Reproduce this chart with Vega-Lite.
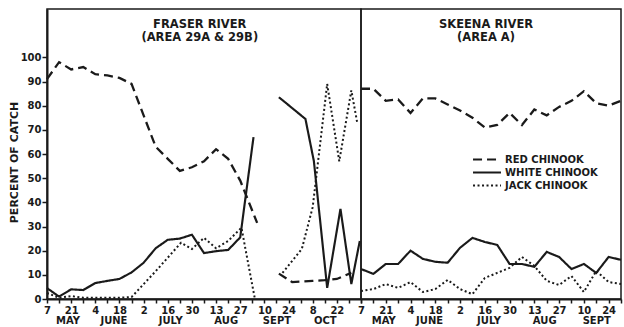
{
  "$schema": "https://vega.github.io/schema/vega-lite/v6.json",
  "background": "white",
  "padding": {"left": 7, "top": 8, "right": 1, "bottom": 0},
  "spacing": 0,
  "bounds": "flush",
  "config": {
    "font": "DejaVu Sans",
    "view": {"stroke": "#1a1a1a", "strokeWidth": 1.5},
    "axis": {
      "grid": false,
      "domainColor": "#1a1a1a",
      "domainWidth": 2,
      "tickColor": "#1a1a1a",
      "tickWidth": 1.5,
      "labelColor": "#1a1a1a",
      "labelFont": "DejaVu Sans",
      "labelFontWeight": "bold",
      "labelFontSize": 10,
      "titleFont": "DejaVu Sans",
      "titleFontWeight": "bold",
      "titleFontSize": 11,
      "titleColor": "#1a1a1a"
    },
    "legend": {
      "labelFont": "DejaVu Sans",
      "labelFontWeight": "bold",
      "labelFontSize": 10,
      "labelColor": "#1a1a1a",
      "symbolStrokeColor": "#1a1a1a",
      "symbolStrokeWidth": 2,
      "padding": 0
    }
  },
  "datasets": {
    "catch": [
      {"river": "Fraser", "type": "RED CHINOOK", "seg": 1, "week": 0, "pct": 91},
      {"river": "Fraser", "type": "RED CHINOOK", "seg": 1, "week": 1, "pct": 98},
      {"river": "Fraser", "type": "RED CHINOOK", "seg": 1, "week": 2, "pct": 95},
      {"river": "Fraser", "type": "RED CHINOOK", "seg": 1, "week": 3, "pct": 96},
      {"river": "Fraser", "type": "RED CHINOOK", "seg": 1, "week": 4, "pct": 93},
      {"river": "Fraser", "type": "RED CHINOOK", "seg": 1, "week": 5, "pct": 92.5},
      {"river": "Fraser", "type": "RED CHINOOK", "seg": 1, "week": 6, "pct": 91.5},
      {"river": "Fraser", "type": "RED CHINOOK", "seg": 1, "week": 7, "pct": 89},
      {"river": "Fraser", "type": "RED CHINOOK", "seg": 1, "week": 8, "pct": 76},
      {"river": "Fraser", "type": "RED CHINOOK", "seg": 1, "week": 9, "pct": 63},
      {"river": "Fraser", "type": "RED CHINOOK", "seg": 1, "week": 10, "pct": 58},
      {"river": "Fraser", "type": "RED CHINOOK", "seg": 1, "week": 11, "pct": 53},
      {"river": "Fraser", "type": "RED CHINOOK", "seg": 1, "week": 12, "pct": 54.5},
      {"river": "Fraser", "type": "RED CHINOOK", "seg": 1, "week": 13, "pct": 57},
      {"river": "Fraser", "type": "RED CHINOOK", "seg": 1, "week": 14, "pct": 62},
      {"river": "Fraser", "type": "RED CHINOOK", "seg": 1, "week": 15, "pct": 58},
      {"river": "Fraser", "type": "RED CHINOOK", "seg": 1, "week": 16, "pct": 49},
      {"river": "Fraser", "type": "RED CHINOOK", "seg": 1, "week": 17.4, "pct": 31.5},
      {"river": "Fraser", "type": "RED CHINOOK", "seg": 2, "week": 19.2, "pct": 10.5},
      {"river": "Fraser", "type": "RED CHINOOK", "seg": 2, "week": 20.3, "pct": 7},
      {"river": "Fraser", "type": "RED CHINOOK", "seg": 2, "week": 21, "pct": 7.2},
      {"river": "Fraser", "type": "RED CHINOOK", "seg": 2, "week": 22, "pct": 7.5},
      {"river": "Fraser", "type": "RED CHINOOK", "seg": 2, "week": 23, "pct": 7.8},
      {"river": "Fraser", "type": "RED CHINOOK", "seg": 2, "week": 24, "pct": 8.3},
      {"river": "Fraser", "type": "RED CHINOOK", "seg": 2, "week": 25.2, "pct": 10.8},
      {"river": "Fraser", "type": "WHITE CHINOOK", "seg": 1, "week": 0, "pct": 4.5},
      {"river": "Fraser", "type": "WHITE CHINOOK", "seg": 1, "week": 1, "pct": 1},
      {"river": "Fraser", "type": "WHITE CHINOOK", "seg": 1, "week": 2, "pct": 4},
      {"river": "Fraser", "type": "WHITE CHINOOK", "seg": 1, "week": 3, "pct": 3.7},
      {"river": "Fraser", "type": "WHITE CHINOOK", "seg": 1, "week": 4, "pct": 6.6},
      {"river": "Fraser", "type": "WHITE CHINOOK", "seg": 1, "week": 5, "pct": 7.5},
      {"river": "Fraser", "type": "WHITE CHINOOK", "seg": 1, "week": 6, "pct": 8.3},
      {"river": "Fraser", "type": "WHITE CHINOOK", "seg": 1, "week": 7, "pct": 11},
      {"river": "Fraser", "type": "WHITE CHINOOK", "seg": 1, "week": 8, "pct": 15},
      {"river": "Fraser", "type": "WHITE CHINOOK", "seg": 1, "week": 9, "pct": 21},
      {"river": "Fraser", "type": "WHITE CHINOOK", "seg": 1, "week": 10, "pct": 24.5},
      {"river": "Fraser", "type": "WHITE CHINOOK", "seg": 1, "week": 11, "pct": 25},
      {"river": "Fraser", "type": "WHITE CHINOOK", "seg": 1, "week": 12, "pct": 26.6},
      {"river": "Fraser", "type": "WHITE CHINOOK", "seg": 1, "week": 13, "pct": 19},
      {"river": "Fraser", "type": "WHITE CHINOOK", "seg": 1, "week": 14, "pct": 19.8},
      {"river": "Fraser", "type": "WHITE CHINOOK", "seg": 1, "week": 15, "pct": 20.3},
      {"river": "Fraser", "type": "WHITE CHINOOK", "seg": 1, "week": 16, "pct": 25.5},
      {"river": "Fraser", "type": "WHITE CHINOOK", "seg": 1, "week": 17.1, "pct": 67},
      {"river": "Fraser", "type": "WHITE CHINOOK", "seg": 2, "week": 19.2, "pct": 83.5},
      {"river": "Fraser", "type": "WHITE CHINOOK", "seg": 2, "week": 21.4, "pct": 74.5},
      {"river": "Fraser", "type": "WHITE CHINOOK", "seg": 2, "week": 22.1, "pct": 57},
      {"river": "Fraser", "type": "WHITE CHINOOK", "seg": 2, "week": 23.2, "pct": 4.6},
      {"river": "Fraser", "type": "WHITE CHINOOK", "seg": 2, "week": 24.3, "pct": 37.3},
      {"river": "Fraser", "type": "WHITE CHINOOK", "seg": 2, "week": 25.2, "pct": 6.2},
      {"river": "Fraser", "type": "WHITE CHINOOK", "seg": 2, "week": 25.9, "pct": 24},
      {"river": "Fraser", "type": "JACK CHINOOK", "seg": 1, "week": 0, "pct": 2.5},
      {"river": "Fraser", "type": "JACK CHINOOK", "seg": 1, "week": 1, "pct": 0.5},
      {"river": "Fraser", "type": "JACK CHINOOK", "seg": 1, "week": 2, "pct": 1.2},
      {"river": "Fraser", "type": "JACK CHINOOK", "seg": 1, "week": 3, "pct": 0.5},
      {"river": "Fraser", "type": "JACK CHINOOK", "seg": 1, "week": 4, "pct": 0.5},
      {"river": "Fraser", "type": "JACK CHINOOK", "seg": 1, "week": 5, "pct": 0.5},
      {"river": "Fraser", "type": "JACK CHINOOK", "seg": 1, "week": 6, "pct": 0.5},
      {"river": "Fraser", "type": "JACK CHINOOK", "seg": 1, "week": 7, "pct": 0.8},
      {"river": "Fraser", "type": "JACK CHINOOK", "seg": 1, "week": 9, "pct": 11.5},
      {"river": "Fraser", "type": "JACK CHINOOK", "seg": 1, "week": 11.1, "pct": 23.3},
      {"river": "Fraser", "type": "JACK CHINOOK", "seg": 1, "week": 12, "pct": 20.7},
      {"river": "Fraser", "type": "JACK CHINOOK", "seg": 1, "week": 13, "pct": 25.3},
      {"river": "Fraser", "type": "JACK CHINOOK", "seg": 1, "week": 14, "pct": 21},
      {"river": "Fraser", "type": "JACK CHINOOK", "seg": 1, "week": 15, "pct": 24},
      {"river": "Fraser", "type": "JACK CHINOOK", "seg": 1, "week": 16.1, "pct": 29.5},
      {"river": "Fraser", "type": "JACK CHINOOK", "seg": 1, "week": 17.2, "pct": 0.4},
      {"river": "Fraser", "type": "JACK CHINOOK", "seg": 2, "week": 19.5, "pct": 10.8},
      {"river": "Fraser", "type": "JACK CHINOOK", "seg": 2, "week": 21.1, "pct": 20.7},
      {"river": "Fraser", "type": "JACK CHINOOK", "seg": 2, "week": 22, "pct": 38},
      {"river": "Fraser", "type": "JACK CHINOOK", "seg": 2, "week": 23.2, "pct": 89},
      {"river": "Fraser", "type": "JACK CHINOOK", "seg": 2, "week": 24.2, "pct": 57},
      {"river": "Fraser", "type": "JACK CHINOOK", "seg": 2, "week": 25.2, "pct": 86.3},
      {"river": "Fraser", "type": "JACK CHINOOK", "seg": 2, "week": 25.7, "pct": 72.6},
      {"river": "Skeena", "type": "RED CHINOOK", "seg": 1, "week": 0, "pct": 87},
      {"river": "Skeena", "type": "RED CHINOOK", "seg": 1, "week": 1, "pct": 87},
      {"river": "Skeena", "type": "RED CHINOOK", "seg": 1, "week": 2, "pct": 82},
      {"river": "Skeena", "type": "RED CHINOOK", "seg": 1, "week": 3, "pct": 82.6},
      {"river": "Skeena", "type": "RED CHINOOK", "seg": 1, "week": 4, "pct": 77},
      {"river": "Skeena", "type": "RED CHINOOK", "seg": 1, "week": 5, "pct": 83},
      {"river": "Skeena", "type": "RED CHINOOK", "seg": 1, "week": 6, "pct": 83},
      {"river": "Skeena", "type": "RED CHINOOK", "seg": 1, "week": 7, "pct": 80.5},
      {"river": "Skeena", "type": "RED CHINOOK", "seg": 1, "week": 8, "pct": 78},
      {"river": "Skeena", "type": "RED CHINOOK", "seg": 1, "week": 9, "pct": 75},
      {"river": "Skeena", "type": "RED CHINOOK", "seg": 1, "week": 10, "pct": 71},
      {"river": "Skeena", "type": "RED CHINOOK", "seg": 1, "week": 11, "pct": 72},
      {"river": "Skeena", "type": "RED CHINOOK", "seg": 1, "week": 12, "pct": 77},
      {"river": "Skeena", "type": "RED CHINOOK", "seg": 1, "week": 13, "pct": 72},
      {"river": "Skeena", "type": "RED CHINOOK", "seg": 1, "week": 14, "pct": 78.4},
      {"river": "Skeena", "type": "RED CHINOOK", "seg": 1, "week": 15, "pct": 76},
      {"river": "Skeena", "type": "RED CHINOOK", "seg": 1, "week": 16, "pct": 79.5},
      {"river": "Skeena", "type": "RED CHINOOK", "seg": 1, "week": 17, "pct": 82},
      {"river": "Skeena", "type": "RED CHINOOK", "seg": 1, "week": 18, "pct": 86},
      {"river": "Skeena", "type": "RED CHINOOK", "seg": 1, "week": 19, "pct": 81},
      {"river": "Skeena", "type": "RED CHINOOK", "seg": 1, "week": 20, "pct": 80},
      {"river": "Skeena", "type": "RED CHINOOK", "seg": 1, "week": 21, "pct": 82},
      {"river": "Skeena", "type": "WHITE CHINOOK", "seg": 1, "week": 0, "pct": 12.4},
      {"river": "Skeena", "type": "WHITE CHINOOK", "seg": 1, "week": 1, "pct": 10.4},
      {"river": "Skeena", "type": "WHITE CHINOOK", "seg": 1, "week": 2, "pct": 14.5},
      {"river": "Skeena", "type": "WHITE CHINOOK", "seg": 1, "week": 3, "pct": 14.5},
      {"river": "Skeena", "type": "WHITE CHINOOK", "seg": 1, "week": 4, "pct": 20},
      {"river": "Skeena", "type": "WHITE CHINOOK", "seg": 1, "week": 5, "pct": 16.6},
      {"river": "Skeena", "type": "WHITE CHINOOK", "seg": 1, "week": 6, "pct": 15.4},
      {"river": "Skeena", "type": "WHITE CHINOOK", "seg": 1, "week": 7, "pct": 15},
      {"river": "Skeena", "type": "WHITE CHINOOK", "seg": 1, "week": 8, "pct": 21.2},
      {"river": "Skeena", "type": "WHITE CHINOOK", "seg": 1, "week": 9, "pct": 25.3},
      {"river": "Skeena", "type": "WHITE CHINOOK", "seg": 1, "week": 10, "pct": 23.6},
      {"river": "Skeena", "type": "WHITE CHINOOK", "seg": 1, "week": 11, "pct": 22.4},
      {"river": "Skeena", "type": "WHITE CHINOOK", "seg": 1, "week": 12, "pct": 14.5},
      {"river": "Skeena", "type": "WHITE CHINOOK", "seg": 1, "week": 13, "pct": 14.5},
      {"river": "Skeena", "type": "WHITE CHINOOK", "seg": 1, "week": 14, "pct": 13.3},
      {"river": "Skeena", "type": "WHITE CHINOOK", "seg": 1, "week": 15, "pct": 19.5},
      {"river": "Skeena", "type": "WHITE CHINOOK", "seg": 1, "week": 16, "pct": 17.4},
      {"river": "Skeena", "type": "WHITE CHINOOK", "seg": 1, "week": 17, "pct": 12.4},
      {"river": "Skeena", "type": "WHITE CHINOOK", "seg": 1, "week": 18, "pct": 14.5},
      {"river": "Skeena", "type": "WHITE CHINOOK", "seg": 1, "week": 19, "pct": 10.8},
      {"river": "Skeena", "type": "WHITE CHINOOK", "seg": 1, "week": 20, "pct": 17.4},
      {"river": "Skeena", "type": "WHITE CHINOOK", "seg": 1, "week": 21, "pct": 16.2},
      {"river": "Skeena", "type": "JACK CHINOOK", "seg": 1, "week": 0, "pct": 3.3},
      {"river": "Skeena", "type": "JACK CHINOOK", "seg": 1, "week": 1, "pct": 4.1},
      {"river": "Skeena", "type": "JACK CHINOOK", "seg": 1, "week": 2, "pct": 6.2},
      {"river": "Skeena", "type": "JACK CHINOOK", "seg": 1, "week": 3, "pct": 4.6},
      {"river": "Skeena", "type": "JACK CHINOOK", "seg": 1, "week": 4, "pct": 7},
      {"river": "Skeena", "type": "JACK CHINOOK", "seg": 1, "week": 5, "pct": 2.9},
      {"river": "Skeena", "type": "JACK CHINOOK", "seg": 1, "week": 6, "pct": 4.1},
      {"river": "Skeena", "type": "JACK CHINOOK", "seg": 1, "week": 7, "pct": 7.9},
      {"river": "Skeena", "type": "JACK CHINOOK", "seg": 1, "week": 8, "pct": 4.1},
      {"river": "Skeena", "type": "JACK CHINOOK", "seg": 1, "week": 9, "pct": 2},
      {"river": "Skeena", "type": "JACK CHINOOK", "seg": 1, "week": 10, "pct": 8.7},
      {"river": "Skeena", "type": "JACK CHINOOK", "seg": 1, "week": 11, "pct": 10.8},
      {"river": "Skeena", "type": "JACK CHINOOK", "seg": 1, "week": 12, "pct": 12.9},
      {"river": "Skeena", "type": "JACK CHINOOK", "seg": 1, "week": 13, "pct": 17.4},
      {"river": "Skeena", "type": "JACK CHINOOK", "seg": 1, "week": 14, "pct": 13.7},
      {"river": "Skeena", "type": "JACK CHINOOK", "seg": 1, "week": 15, "pct": 7.5},
      {"river": "Skeena", "type": "JACK CHINOOK", "seg": 1, "week": 16, "pct": 5.8},
      {"river": "Skeena", "type": "JACK CHINOOK", "seg": 1, "week": 17, "pct": 9.5},
      {"river": "Skeena", "type": "JACK CHINOOK", "seg": 1, "week": 18, "pct": 2.9},
      {"river": "Skeena", "type": "JACK CHINOOK", "seg": 1, "week": 19, "pct": 11.6},
      {"river": "Skeena", "type": "JACK CHINOOK", "seg": 1, "week": 20, "pct": 7},
      {"river": "Skeena", "type": "JACK CHINOOK", "seg": 1, "week": 21, "pct": 6.2}
    ]
  },
  "resolve": {"legend": {"strokeDash": "independent"}},
  "hconcat": [
    {
      "width": 314,
      "height": 290,
      "layer": [
        {
          "data": {"name": "catch"},
          "transform": [{"filter": "datum.river == 'Fraser'"}],
          "mark": {"type": "line", "color": "#1a1a1a"},
          "encoding": {
            "x": {
              "field": "week", "type": "quantitative",
              "scale": {"domain": [0, 26], "nice": false, "zero": false},
              "axis": {
                "title": null,
                "values": [0,1,2,3,4,5,6,7,8,9,10,11,12,13,14,15,16,17,18,19,20,21,22,23,24,25,26],
                "labelExpr": "['7','','21','','4','','18','','2','','16','','30','','13','','27','','10','','24','','8','','22','',''][datum.value]",
                "labelOverlap": false,
                "labelFlush": false,
                "tickSize": 4,
                "labelPadding": 2
              }
            },
            "y": {
              "field": "pct", "type": "quantitative",
              "scale": {"domain": [0, 120], "nice": false},
              "axis": {
                "title": "PERCENT OF CATCH",
                "values": [0,10,20,30,40,50,60,70,80,90,100],
                "tickSize": 5,
                "labelPadding": 1,
                "titleX": -28,
                "titleY": 153
              }
            },
            "detail": {"field": "seg"},
            "order": {"field": "week"},
            "strokeDash": {
              "field": "type", "type": "nominal",
              "scale": {"domain": ["RED CHINOOK", "WHITE CHINOOK", "JACK CHINOOK"], "range": [[9, 5], [1, 0], [2, 2.5]]},
              "legend": null
            },
            "strokeWidth": {
              "field": "type", "type": "nominal",
              "scale": {"domain": ["RED CHINOOK", "WHITE CHINOOK", "JACK CHINOOK"], "range": [2.3, 2, 1.8]},
              "legend": null
            }
          }
        },
        {
          "data": {"values": [{}]},
          "mark": {"type": "text", "text": ["FRASER RIVER", "(AREA 29A & 29B)"], "font": "DejaVu Sans", "fontWeight": "bold", "fontSize": 11.5, "lineHeight": 13, "baseline": "top", "align": "center", "color": "#1a1a1a"},
          "encoding": {
            "x": {
              "datum": 12.65, "type": "quantitative",
              "axis": {
                "orient": "bottom",
                "title": null,
                "values": [1.7, 5.5, 10.2, 14.8, 19, 23],
                "labelExpr": "datum.value < 3 ? 'MAY' : datum.value < 8 ? 'JUNE' : datum.value < 12 ? 'JULY' : datum.value < 17 ? 'AUG' : datum.value < 21 ? 'SEPT' : 'OCT'",
                "ticks": false,
                "domain": false,
                "labelOverlap": false,
                "labelFlush": false,
                "offset": 14.5,
                "labelPadding": 2
              }
            },
            "y": {"datum": 116, "type": "quantitative", "axis": null}
          }
        }
      ],
      "resolve": {"axis": {"x": "independent", "y": "independent"}}
    },
    {
      "width": 260,
      "height": 290,
      "layer": [
        {
          "data": {"name": "catch"},
          "transform": [{"filter": "datum.river == 'Skeena'"}],
          "mark": {"type": "line", "color": "#1a1a1a"},
          "encoding": {
            "x": {
              "field": "week", "type": "quantitative",
              "scale": {"domain": [0, 21], "nice": false, "zero": false},
              "axis": {
                "title": null,
                "values": [0,1,2,3,4,5,6,7,8,9,10,11,12,13,14,15,16,17,18,19,20,21],
                "labelExpr": "['7','','21','','4','','18','','2','','16','','30','','13','','27','','10','','24','',''][datum.value]",
                "labelOverlap": false,
                "labelFlush": false,
                "tickSize": 4,
                "labelPadding": 2
              }
            },
            "y": {
              "field": "pct", "type": "quantitative",
              "scale": {"domain": [0, 120], "nice": false},
              "axis": null
            },
            "detail": {"field": "seg"},
            "order": {"field": "week"},
            "strokeDash": {
              "field": "type", "type": "nominal",
              "scale": {"domain": ["RED CHINOOK", "WHITE CHINOOK", "JACK CHINOOK"], "range": [[9, 5], [1, 0], [2, 2.5]]},
              "legend": {
                "title": null,
                "orient": "none",
                "legendX": 118.5,
                "legendY": 143,
                "symbolType": "M-2.15,0H2.15",
                "symbolSize": 169,
                "rowPadding": 0,
                "labelOffset": 10.5
              }
            },
            "strokeWidth": {
              "field": "type", "type": "nominal",
              "scale": {"domain": ["RED CHINOOK", "WHITE CHINOOK", "JACK CHINOOK"], "range": [2.3, 2, 1.8]},
              "legend": null
            }
          }
        },
        {
          "data": {"values": [{}]},
          "mark": {"type": "text", "text": ["SKEENA RIVER", "(AREA A)"], "font": "DejaVu Sans", "fontWeight": "bold", "fontSize": 11.5, "lineHeight": 13, "baseline": "top", "align": "center", "color": "#1a1a1a"},
          "encoding": {
            "x": {
              "datum": 10.1, "type": "quantitative",
              "axis": {
                "orient": "bottom",
                "title": null,
                "values": [1.8, 5.5, 10.3, 14.8, 19],
                "labelExpr": "datum.value < 3 ? 'MAY' : datum.value < 8 ? 'JUNE' : datum.value < 12 ? 'JULY' : datum.value < 17 ? 'AUG' : 'SEPT'",
                "ticks": false,
                "domain": false,
                "labelOverlap": false,
                "labelFlush": false,
                "offset": 14.5,
                "labelPadding": 2
              }
            },
            "y": {"datum": 116, "type": "quantitative", "axis": null}
          }
        }
      ],
      "resolve": {"axis": {"x": "independent", "y": "independent"}}
    }
  ]
}
